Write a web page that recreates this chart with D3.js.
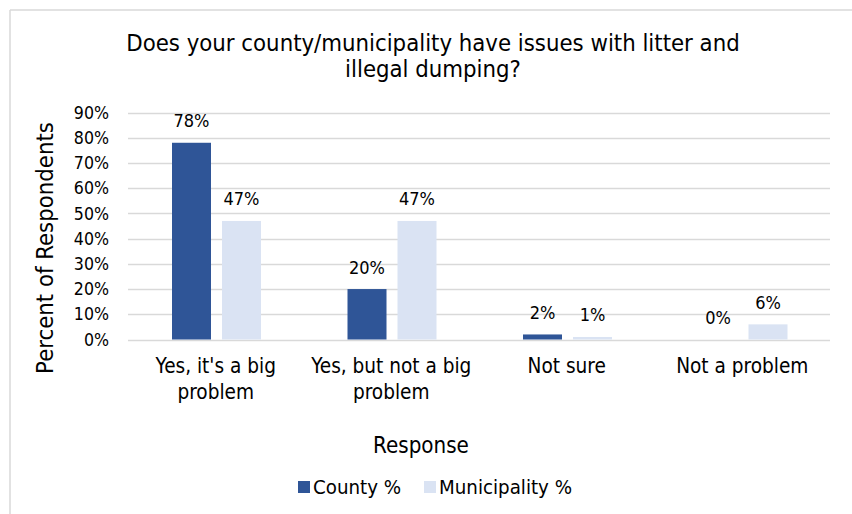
<!DOCTYPE html>
<html>
<head>
<meta charset="utf-8">
<script src="https://cdn.jsdelivr.net/npm/d3@7"></script>
<style>
  html, body { margin: 0; padding: 0; background: #fff; }
  svg { display: block; }
  text { font-family: "DejaVu Sans Condensed", "DejaVu Sans", sans-serif; fill: #000; }
</style>
</head>
<body>
<svg id="chart" width="852" height="514"></svg>
<script>
const categories = ["Yes, it's a big problem", "Yes, but not a big problem", "Not sure", "Not a problem"];
const categoryLines = [["Yes, it's a big", "problem"], ["Yes, but not a big", "problem"], ["Not sure"], ["Not a problem"]];
const seriesNames = ["County %", "Municipality %"];
const countyValues = [78, 20, 2, 0];
const municipalityValues = [47, 47, 1, 6];
const yTicks = [0, 10, 20, 30, 40, 50, 60, 70, 80, 90];
const colors = ["#2F5597", "#DAE3F3"];
const titleLines = ["Does your county/municipality have issues with litter and", "illegal dumping?"];

const svg = d3.select("#chart");

// frame (left and top edges)
svg.append("line").attr("x1", 10).attr("y1", 10).attr("x2", 852).attr("y2", 10)
  .attr("stroke", "#d9d9d9").attr("stroke-width", 1.5);
svg.append("line").attr("x1", 10).attr("y1", 10).attr("x2", 10).attr("y2", 514)
  .attr("stroke", "#d9d9d9").attr("stroke-width", 1.5);

const plot = { left: 128, right: 830, top: 112.5, bottom: 339.5 };

const x0 = d3.scaleBand().domain(categories).range([plot.left, plot.right]).padding(0);
const x1 = d3.scaleBand().domain(seriesNames).range([44, 133]).paddingInner(0.22).paddingOuter(0);
const y = d3.scaleLinear().domain([0, 90]).range([plot.bottom, plot.top]);

// gridlines
svg.append("g").selectAll("line").data(yTicks).join("line")
  .attr("x1", plot.left).attr("x2", plot.right)
  .attr("y1", d => Math.round(y(d)) + 0.5).attr("y2", d => Math.round(y(d)) + 0.5)
  .attr("stroke", "#d9d9d9").attr("stroke-width", 1.5);

// y axis labels
const yAxis = d3.axisLeft(y).tickValues(yTicks).tickFormat(d => d + "%").tickSize(0).tickPadding(0);
const yg = svg.append("g").attr("transform", `translate(${plot.left - 19},0)`).call(yAxis);
yg.select(".domain").remove();
yg.selectAll("text").attr("font-size", 17.6).attr("font-family", "DejaVu Sans Condensed, DejaVu Sans, sans-serif").attr("fill", "#000");

// bars
const seriesData = [countyValues, municipalityValues];
const groups = svg.append("g").selectAll("g").data(categories).join("g")
  .attr("transform", d => `translate(${x0(d)},0)`);
groups.each(function(cat, i) {
  const g = d3.select(this);
  seriesNames.forEach((s, j) => {
    const v = seriesData[j][i];
    g.append("rect")
      .attr("x", x1(s)).attr("width", x1.bandwidth())
      .attr("y", y(v)).attr("height", y(0) - y(v))
      .attr("fill", colors[j]);
    g.append("text")
      .attr("x", x1(s) + x1.bandwidth() / 2)
      .attr("y", y(v) - 15.5)
      .attr("text-anchor", "middle")
      .attr("font-size", 18)
      .text(v + "%");
  });
});

// x category labels
const xl = svg.append("g");
categories.forEach((c, i) => {
  const cx = x0(c) + x0.bandwidth() / 2;
  categoryLines[i].forEach((ln, k) => {
    xl.append("text").attr("x", cx).attr("y", 373 + k * 25.5)
      .attr("text-anchor", "middle").attr("font-size", 20.6).text(ln);
  });
});

// title
titleLines.forEach((t, k) => {
  svg.append("text").attr("x", 433).attr("y", 51 + k * 26)
    .attr("text-anchor", "middle").attr("font-size", 23.7).text(t);
});

// axis titles
svg.append("text").attr("x", 421).attr("y", 453).attr("text-anchor", "middle")
  .attr("font-size", 22.2).text("Response");
svg.append("text").attr("transform", "translate(53,248) rotate(-90)")
  .attr("text-anchor", "middle").attr("font-size", 23.7).text("Percent of Respondents");

// legend
const legendX = [298, 424];
seriesNames.forEach((s, j) => {
  svg.append("rect").attr("x", legendX[j]).attr("y", 481).attr("width", 12).attr("height", 12)
    .attr("fill", colors[j]);
  svg.append("text").attr("x", legendX[j] + 15).attr("y", 493.5)
    .attr("font-size", 20.3).text(s);
});
</script>
</body>
</html>
